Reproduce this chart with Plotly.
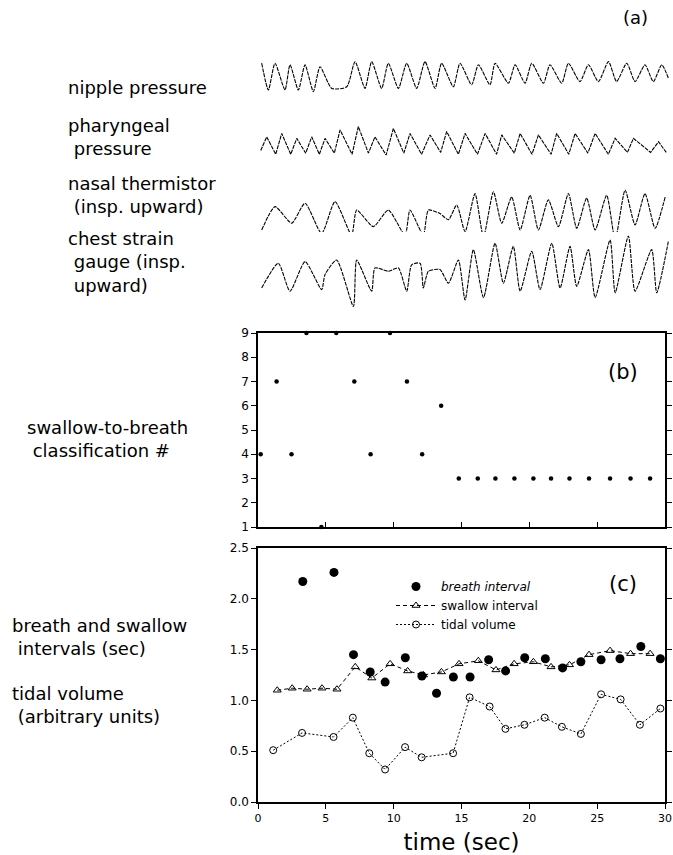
import plotly.graph_objects as go

# ---------------- data ----------------
# panel (a) waveforms: time (s) and normalised amplitude (arbitrary units)
nipple_t = [0.27, 0.76, 1.25, 1.98, 2.35, 2.96, 3.45, 4.06, 4.55, 5.41, 6.51, 7.12, 7.85, 8.34, 9.07,
            9.56, 10.30, 10.91, 11.64, 12.25, 12.99, 13.47, 14.33, 14.82, 15.67, 16.17, 17.02, 17.39,
            18.37, 18.86, 19.59, 20.08, 20.94, 21.42, 22.28, 22.77, 23.62, 24.24, 24.97, 25.71, 26.31,
            27.05, 27.66, 28.39, 29.00, 29.62, 30.10]
nipple_v = [0.82, 0.15, 0.82, 0.15, 0.78, 0.15, 0.78, 0.11, 0.73, 0.19, 0.23, 0.86, 0.19, 0.86, 0.19,
            0.82, 0.19, 0.82, 0.19, 0.86, 0.19, 0.82, 0.23, 0.82, 0.28, 0.78, 0.28, 0.82,
            0.32, 0.78, 0.32, 0.82, 0.32, 0.78, 0.32, 0.82, 0.36, 0.78, 0.36, 0.86, 0.36,
            0.82, 0.36, 0.78, 0.36, 0.78, 0.45]

pharyn_t = [0.20, 0.64, 1.30, 1.74, 2.40, 2.84, 3.50, 3.94, 4.50, 4.92, 5.60, 6.02, 6.90, 7.36, 8.10,
            8.58, 9.40, 9.93, 10.70, 11.15, 12.00, 12.62, 13.40, 13.84, 14.70, 15.19, 16.10, 16.66,
            17.50, 17.88, 18.80, 19.23, 20.10, 20.57, 21.50, 21.91, 22.80, 23.26, 24.20, 24.73,
            25.70, 26.20, 27.10, 27.54, 28.80, 29.38, 29.95]
pharyn_v = [0.25, 0.61, 0.15, 0.70, 0.15, 0.57, 0.18, 0.61, 0.15, 0.57, 0.18, 0.79, 0.15, 0.88, 0.18,
            0.61, 0.13, 0.83, 0.18, 0.70, 0.15, 0.66, 0.20, 0.75, 0.15, 0.70, 0.15, 0.70,
            0.15, 0.66, 0.18, 0.70, 0.15, 0.66, 0.15, 0.70, 0.15, 0.70, 0.18, 0.70,
            0.15, 0.57, 0.20, 0.57, 0.20, 0.48, 0.20]

nasal_t = [0.27, 1.25, 2.47, 3.45, 4.67, 5.65, 6.87, 7.24, 8.46, 9.56, 10.79, 11.15, 12.13, 12.50,
           13.35, 13.97, 14.58, 15.19, 15.92, 16.54, 17.27, 17.88, 18.61, 19.23, 19.96, 20.57,
           21.30, 22.04, 22.77, 23.38, 24.11, 24.73, 25.58, 26.20, 26.93, 27.66, 28.39, 29.13, 29.87]
nasal_v = [0.21, 0.62, 0.33, 0.68, 0.15, 0.71, 0.12, 0.56, 0.27, 0.56, 0.12, 0.56, 0.12, 0.56,
           0.50, 0.39, 0.65, 0.18, 0.85, 0.09, 0.88, 0.33, 0.79, 0.21, 0.82, 0.21,
           0.74, 0.27, 0.85, 0.24, 0.77, 0.21, 0.82, 0.04, 0.91, 0.30, 0.85, 0.24, 0.79]

chest_t = [0.27, 1.49, 2.35, 3.45, 4.67, 4.92, 5.77, 7.00, 7.24, 8.34, 8.58, 9.56, 10.30, 10.91,
           11.27, 11.89, 12.13, 12.50, 13.35, 13.97, 14.70, 15.19, 15.80, 16.54, 17.39, 18.00,
           18.73, 19.23, 20.08, 20.69, 21.55, 22.16, 22.89, 23.38, 24.24, 24.73, 25.83, 26.20,
           27.17, 27.66, 28.88, 29.25, 30.10]
chest_v = [0.30, 0.61, 0.26, 0.63, 0.28, 0.47, 0.65, 0.07, 0.65, 0.26, 0.55, 0.51, 0.55, 0.26,
           0.59, 0.61, 0.30, 0.51, 0.53, 0.36, 0.65, 0.15, 0.78, 0.18, 0.86, 0.36,
           0.82, 0.26, 0.76, 0.28, 0.86, 0.30, 0.82, 0.32, 0.78, 0.18, 0.90, 0.24,
           0.95, 0.26, 0.78, 0.24, 0.88]

# panel (b): swallow-to-breath classification
class_t = [0.2, 1.37, 2.47, 3.57, 4.67, 5.77, 7.1, 8.3, 9.73, 10.98, 12.1, 13.5,
           14.8, 16.2, 17.5, 18.9, 20.3, 21.6, 22.96, 24.4, 25.95, 27.46, 28.9]
class_v = [4, 7, 4, 9, 1, 9, 7, 4, 9, 7, 4, 6,
           3, 3, 3, 3, 3, 3, 3, 3, 3, 3, 3]

# panel (c)
breath_t = [3.3, 5.6, 7.04, 8.27, 9.37, 10.86, 12.08, 13.16, 14.4, 15.63, 17.0, 18.25,
            19.66, 21.18, 22.45, 23.8, 25.29, 26.68, 28.22, 29.66]
breath_v = [2.17, 2.26, 1.45, 1.28, 1.18, 1.42, 1.24, 1.07, 1.23, 1.23, 1.40, 1.29,
            1.42, 1.41, 1.32, 1.38, 1.40, 1.41, 1.53, 1.41]

swallow_t = [1.42, 2.52, 3.62, 4.72, 5.82, 7.17, 8.39, 9.74, 11.03, 12.2, 13.52, 14.82,
             16.24, 17.54, 18.88, 20.3, 21.6, 22.96, 24.4, 25.95, 27.46, 28.9]
swallow_v = [1.10, 1.12, 1.11, 1.12, 1.11, 1.33, 1.22, 1.36, 1.29, 1.25, 1.28, 1.36,
             1.39, 1.30, 1.36, 1.38, 1.33, 1.35, 1.45, 1.49, 1.46, 1.46]

tidal_t = [1.12, 3.25, 5.57, 6.99, 8.2, 9.37, 10.84, 12.06, 14.38, 15.6, 17.07, 18.24,
           19.64, 21.13, 22.4, 23.8, 25.29, 26.73, 28.15, 29.66]
tidal_v = [0.51, 0.68, 0.64, 0.83, 0.48, 0.32, 0.54, 0.44, 0.48, 1.03, 0.94, 0.72,
           0.76, 0.83, 0.74, 0.67, 1.06, 1.01, 0.76, 0.92]

ticks_c_x = [0, 5, 10, 15, 20, 25, 30]
ticks_c_y = [0.0, 0.5, 1.0, 1.5, 2.0, 2.5]
ticks_b_y = [1, 2, 3, 4, 5, 6, 7, 8, 9]

# left-hand labels: (text, left px, block centre px)
label_blocks = [
    ("nipple pressure", 68, 88),
    ("pharyngeal<br> pressure", 68, 137),
    ("nasal thermistor<br> (insp. upward)", 68, 195),
    ("chest strain<br> gauge (insp.<br> upward)", 68, 262),
    ("swallow-to-breath<br> classification #", 27, 439),
    ("breath and swallow<br> intervals (sec)", 12, 637),
    ("tidal volume<br> (arbitrary units)", 12, 705),
]

# ---------------- figure ----------------
W, H = 673, 855
FONT = "DejaVu Sans"
fig = go.Figure()

wave_line = dict(color="black", width=1.1, dash="4px,1px")
for t, v, ya, shp in [(nipple_t, nipple_v, "y3", "spline"), (pharyn_t, pharyn_v, "y4", "linear"),
                      (nasal_t, nasal_v, "y5", "spline"), (chest_t, chest_v, "y6", "spline")]:
    fig.add_trace(go.Scatter(x=t, y=v, xaxis="x3", yaxis=ya, mode="lines",
                             line=dict(shape=shp, smoothing=0.6, **wave_line),
                             showlegend=False, hoverinfo="skip"))

fig.add_trace(go.Scatter(x=class_t, y=class_v, xaxis="x2", yaxis="y2", mode="markers",
                         marker=dict(symbol="circle", size=4.5, color="black"),
                         cliponaxis=False, showlegend=False))

fig.add_trace(go.Scatter(x=breath_t, y=breath_v, xaxis="x", yaxis="y", mode="markers",
                         name="<i>breath interval</i>",
                         marker=dict(symbol="circle", size=9, color="black")))
fig.add_trace(go.Scatter(x=swallow_t, y=swallow_v, xaxis="x", yaxis="y", mode="lines+markers",
                         name="swallow interval",
                         line=dict(color="black", width=1, dash="4px,3px"),
                         marker=dict(symbol="triangle-up-open", size=7, color="black",
                                     line=dict(width=1))))
fig.add_trace(go.Scatter(x=tidal_t, y=tidal_v, xaxis="x", yaxis="y", mode="lines+markers",
                         name="tidal volume",
                         line=dict(color="black", width=1, dash="2px,2px"),
                         marker=dict(symbol="circle-open", size=7, color="black",
                                     line=dict(width=1))))

def px_x(p):
    return p / W

def px_y(p):
    return 1 - p / H

dom_x = [px_x(258), px_x(665)]
axis_common = dict(showline=True, linecolor="black", linewidth=1.5, showgrid=False,
                   zeroline=False, tickcolor="black", tickwidth=1.2, automargin=False,
                   tickfont=dict(family=FONT, size=12, color="black"))

fig.update_layout(
    width=W, height=H, margin=dict(l=0, r=0, t=0, b=0, autoexpand=False),
    paper_bgcolor="white", plot_bgcolor="white",
    font=dict(family=FONT, color="black"),
    xaxis=dict(domain=dom_x, range=[0, 30], anchor="y", tickvals=ticks_c_x,
               ticks="outside", ticklen=5, mirror=True, ticklabeloverflow="allow",
               title=dict(text="time (sec)", font=dict(family=FONT, size=23), standoff=12),
               **{**axis_common, "tickfont": dict(family=FONT, size=11, color="black")}),
    yaxis=dict(domain=[px_y(802), px_y(548)], range=[0, 2.5], anchor="x",
               tickvals=ticks_c_y, tickformat=".1f", ticks="outside", ticklen=5,
               mirror="ticks", **axis_common),
    xaxis2=dict(domain=dom_x, range=[0, 30], anchor="y2", tickvals=ticks_c_x[1:-1],
                showticklabels=False, ticks="inside", ticklen=5, mirror=True, **axis_common),
    yaxis2=dict(domain=[px_y(527), px_y(333)], range=[1, 9], anchor="x2",
                tickvals=ticks_b_y, ticks="outside", ticklen=5, mirror="ticks", **axis_common),
    xaxis3=dict(domain=[px_x(258), px_x(672)], range=[0, 30.37], anchor="y3", visible=False),
    yaxis3=dict(domain=[px_y(96), px_y(56)], range=[0, 1], anchor="x3", visible=False),
    yaxis4=dict(domain=[px_y(160), px_y(122)], range=[0, 1], anchor="x3", visible=False),
    yaxis5=dict(domain=[px_y(242), px_y(185)], range=[0, 1], anchor="x3", visible=False),
    yaxis6=dict(domain=[px_y(312), px_y(232)], range=[0, 1], anchor="x3", visible=False),
    legend=dict(x=px_x(391), y=px_y(572), xanchor="left", yanchor="top",
                bgcolor="rgba(0,0,0,0)", font=dict(family=FONT, size=12),
                itemwidth=40, tracegroupgap=0, itemsizing="trace"),
    showlegend=True,
)

for text, x, y in label_blocks:
    fig.add_annotation(text=text, x=px_x(x - 2), y=px_y(y), xref="paper", yref="paper",
                       xanchor="left", yanchor="middle", align="left", showarrow=False,
                       font=dict(family=FONT, size=18, color="black"))

for text, x, y, s in [("(a)", 635, 18, 18), ("(b)", 623, 372, 21), ("(c)", 623, 584, 21)]:
    fig.add_annotation(text=text, x=px_x(x), y=px_y(y), xref="paper", yref="paper",
                       xanchor="center", yanchor="middle", showarrow=False,
                       font=dict(family=FONT, size=s, color="black"))

fig.write_html("out.html")
